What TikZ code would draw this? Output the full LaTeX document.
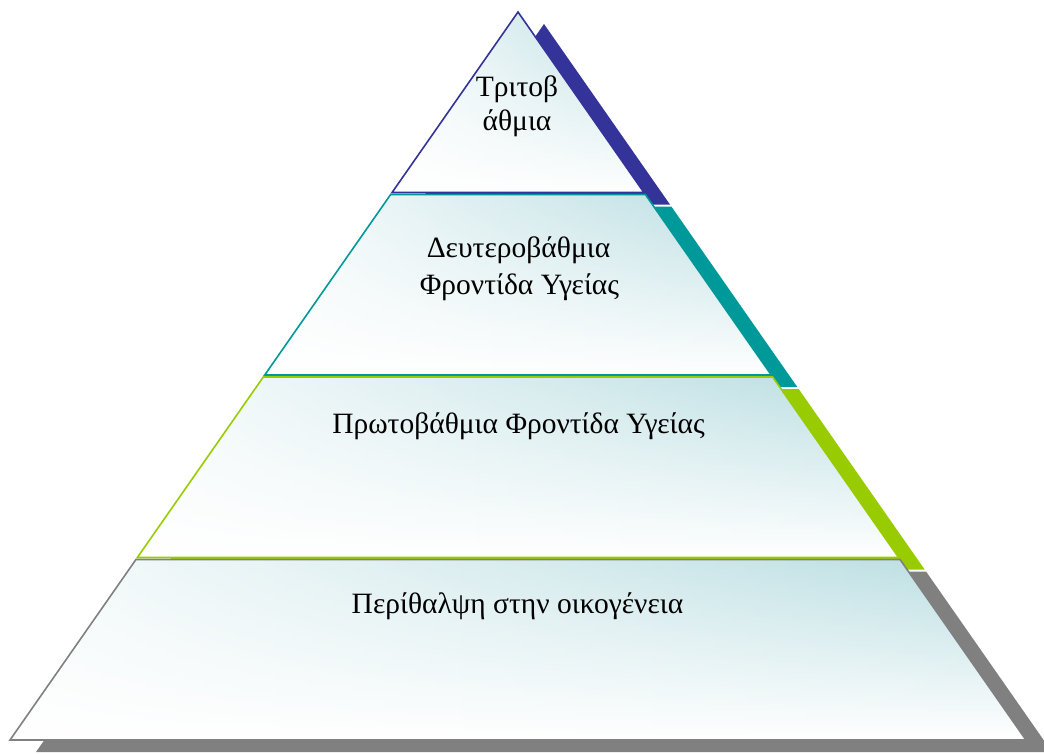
\documentclass[tikz,border=0pt]{standalone}
\usepackage{fontspec}
\setmainfont{Liberation Serif}
\usetikzlibrary{fadings}
\definecolor{cnavy}{RGB}{51,51,153}
\definecolor{cteal}{RGB}{0,153,153}
\definecolor{cgreen}{RGB}{153,204,0}
\definecolor{cgrey}{RGB}{128,128,128}
\definecolor{cfill}{RGB}{184,221,225}
\tikzfading[name=mywhitefade, left color=transparent!10, right color=transparent!100]
\begin{document}
\begin{tikzpicture}[x=1pt,y=-1pt,
  layerfill/.style={top color=cfill, bottom color=white, draw=none},
  whiteover/.style={fill=white, path fading=mywhitefade},
  outline/.style={draw=#1, line width=1.6pt, line join=miter},
  shadowfill/.style={fill=#1, shift={(26,12)}},
  lbl/.style={font=\fontsize{29.5}{34}\selectfont, text=black, inner sep=0pt, anchor=base}]
\useasboundingbox (0,0) rectangle (1044,753);
% shadows
\fill[shadowfill=cgrey] (135.96,559.5) -- (900.04,559.5) -- (1026,740) -- (10,740) -- cycle;
\fill[shadowfill=cgreen] (263.30,377) -- (772.70,377) -- (898.65,557.5) -- (137.35,557.5) -- cycle;
\fill[shadowfill=cteal] (390.65,194.5) -- (645.35,194.5) -- (771.30,375) -- (264.70,375) -- cycle;
\fill[shadowfill=cnavy] (518,12) -- (643.95,192.5) -- (392.05,192.5) -- cycle;
% layer 4
\shade[layerfill] (135.96,559.5) -- (900.04,559.5) -- (1026,740) -- (10,740) -- cycle;
\fill[whiteover] (135.96,559.5) -- (900.04,559.5) -- (1026,740) -- (10,740) -- cycle;
\draw[outline=cgrey] (135.96,559.5) -- (900.04,559.5) -- (1026,740) -- (10,740) -- cycle;
% layer 3
\shade[layerfill] (263.30,377) -- (772.70,377) -- (898.65,557.5) -- (137.35,557.5) -- cycle;
\fill[whiteover] (263.30,377) -- (772.70,377) -- (898.65,557.5) -- (137.35,557.5) -- cycle;
\draw[outline=cgreen] (263.30,377) -- (772.70,377) -- (898.65,557.5) -- (137.35,557.5) -- cycle;
% layer 2
\shade[layerfill] (390.65,194.5) -- (645.35,194.5) -- (771.30,375) -- (264.70,375) -- cycle;
\fill[whiteover] (390.65,194.5) -- (645.35,194.5) -- (771.30,375) -- (264.70,375) -- cycle;
\draw[outline=cteal] (390.65,194.5) -- (645.35,194.5) -- (771.30,375) -- (264.70,375) -- cycle;
% layer 1
\shade[layerfill] (518,12) -- (643.95,192.5) -- (392.05,192.5) -- cycle;
\fill[whiteover] (518,12) -- (643.95,192.5) -- (392.05,192.5) -- cycle;
\draw[outline=cnavy] (518,12) -- (643.95,192.5) -- (392.05,192.5) -- cycle;
% labels
\node[lbl] (t1a) at (517,96.7) {Τριτοβ};
\node[lbl] (t1b) at (517,130.7) {άθμια};
\node[lbl] (t2a) at (518.5,257.7) {Δευτεροβάθμια};
\node[lbl] (t2b) at (519.5,294.2) {Φροντίδα Υγείας};
\node[lbl] (t3) at (518.5,433) {Πρωτοβάθμια Φροντίδα Υγείας};
\node[lbl] (t4) at (517.5,613) {Περίθαλψη στην οικογένεια};
\end{tikzpicture}
\end{document}
